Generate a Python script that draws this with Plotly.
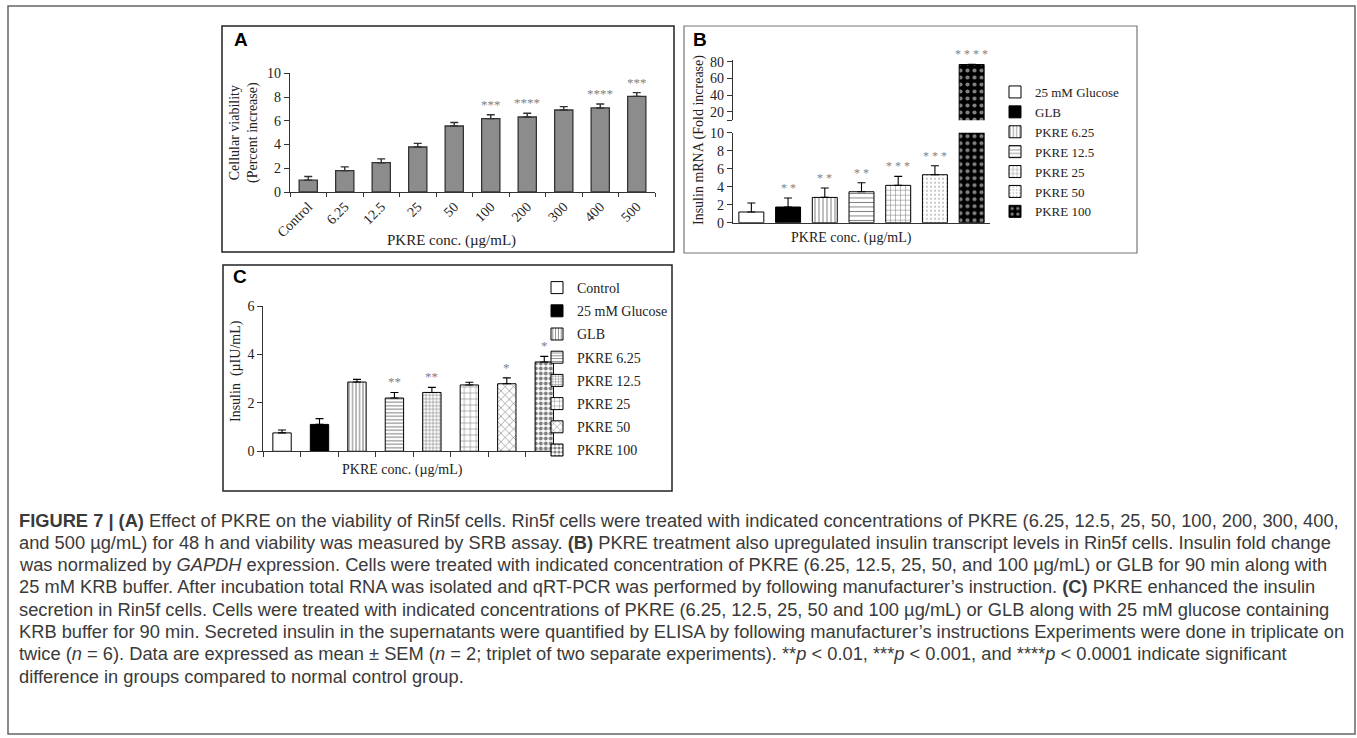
import plotly.graph_objects as go

W, H = 1357, 738

# ---------------- data ----------------
# Panel A: cellular viability after 48 h (SRB assay)
a_cats = ["Control", "6.25", "12.5", "25", "50", "100", "200", "300", "400", "500"]
a_mean = [1.0, 1.8, 2.47, 3.79, 5.56, 6.18, 6.32, 6.91, 7.08, 8.06]
a_sem = [0.3, 0.32, 0.32, 0.31, 0.3, 0.33, 0.31, 0.28, 0.33, 0.31]
a_sig = ["", "", "", "", "", "***", "****", "", "****", "***"]

# Panel B: insulin mRNA fold increase (broken y axis)
b_cats = ["25 mM Glucose", "GLB", "PKRE 6.25", "PKRE 12.5", "PKRE 25", "PKRE 50", "PKRE 100"]
b_mean = [1.19, 1.74, 2.81, 3.44, 4.15, 5.33, 76.6]
b_sem = [1.0, 1.0, 1.04, 1.0, 1.0, 1.0, 0.4]
b_sig = ["", "* *", "* *", "* *", "* * *", "* * *", "* * * *"]

# Panel C: secreted insulin (ELISA)
c_cats = ["Control", "25 mM Glucose", "GLB", "PKRE 6.25", "PKRE 12.5", "PKRE 25", "PKRE 50", "PKRE 100"]
c_mean = [0.76, 1.11, 2.86, 2.2, 2.43, 2.74, 2.79, 3.69]
c_sem = [0.12, 0.24, 0.11, 0.23, 0.21, 0.11, 0.24, 0.23]
c_sig = ["", "", "", "**", "**", "", "*", "*"]

caption_lines = [
    "<b>FIGURE 7 | (A)</b> Effect of PKRE on the viability of Rin5f cells. Rin5f cells were treated with indicated concentrations of PKRE (6.25, 12.5, 25, 50, 100, 200, 300, 400,",
    "and 500 µg/mL) for 48 h and viability was measured by SRB assay. <b>(B)</b> PKRE treatment also upregulated insulin transcript levels in Rin5f cells. Insulin fold change",
    "was normalized by <i>GAPDH</i> expression. Cells were treated with indicated concentration of PKRE (6.25, 12.5, 25, 50, and 100 µg/mL) or GLB for 90 min along with",
    "25 mM KRB buffer. After incubation total RNA was isolated and qRT-PCR was performed by following manufacturer’s instruction. <b>(C)</b> PKRE enhanced the insulin",
    "secretion in Rin5f cells. Cells were treated with indicated concentrations of PKRE (6.25, 12.5, 25, 50 and 100 µg/mL) or GLB along with 25 mM glucose containing",
    "KRB buffer for 90 min. Secreted insulin in the supernatants were quantified by ELISA by following manufacturer’s instructions Experiments were done in triplicate on",
    "twice (<i>n</i> = 6). Data are expressed as mean ± SEM (<i>n</i> = 2; triplet of two separate experiments). **<i>p</i> &lt; 0.01, ***<i>p</i> &lt; 0.001, and ****<i>p</i> &lt; 0.0001 indicate significant",
    "difference in groups compared to normal control group.",
]

# ---------------- helpers ----------------
def px(x):
    return x / W


def py(y):
    return 1 - y / H


SERIF = "Liberation Serif, Times New Roman, serif"
SANS = "Liberation Sans, Arial, sans-serif"
INK = "#222222"
STAR = "#7f7f7f"

b_style = {
    "25 mM Glucose": dict(color="white"),
    "GLB": dict(color="black"),
    "PKRE 6.25": dict(color="white", pattern=dict(shape="|", fgcolor="black", bgcolor="white", size=4, solidity=0.25)),
    "PKRE 12.5": dict(color="white", pattern=dict(shape="-", fgcolor="black", bgcolor="white", size=4.5, solidity=0.22)),
    "PKRE 25": dict(color="white", pattern=dict(shape="+", fgcolor="black", bgcolor="white", size=5, solidity=0.2)),
    "PKRE 50": dict(color="white", pattern=dict(shape=".", fgcolor="#333333", bgcolor="white", size=4, solidity=0.15)),
    "PKRE 100": dict(color="black", pattern=dict(shape=".", fgcolor="white", bgcolor="black", size=7, solidity=0.28)),
}

c_style = {
    "Control": dict(color="white"),
    "25 mM Glucose": dict(color="black"),
    "GLB": dict(color="white", pattern=dict(shape="|", fgcolor="black", bgcolor="white", size=3.5, solidity=0.3)),
    "PKRE 6.25": dict(color="white", pattern=dict(shape="-", fgcolor="black", bgcolor="white", size=3.5, solidity=0.3)),
    "PKRE 12.5": dict(color="white", pattern=dict(shape="+", fgcolor="black", bgcolor="white", size=3.5, solidity=0.3)),
    "PKRE 25": dict(color="white", pattern=dict(shape="+", fgcolor="black", bgcolor="white", size=6, solidity=0.18)),
    "PKRE 50": dict(color="white", pattern=dict(shape="x", fgcolor="black", bgcolor="white", size=6, solidity=0.2)),
    "PKRE 100": dict(color="white", pattern=dict(shape=".", fgcolor="black", bgcolor="white", size=5, solidity=0.5)),
}

fig = go.Figure()

# ---------------- panel A ----------------
fig.add_trace(go.Bar(
    x=a_cats, y=a_mean, width=0.5,
    marker=dict(color="#8c8c8c", line=dict(color="#333333", width=1.3)),
    error_y=dict(type="data", array=a_sem, arrayminus=[0] * len(a_sem), symmetric=False,
                 color="#333333", thickness=1.4, width=4),
    xaxis="x", yaxis="y", showlegend=False, hoverinfo="skip",
))

# ---------------- panel B ----------------
B_LOW_TOP = 10
for cat, m, s in zip(b_cats, b_mean, b_sem):
    st = b_style[cat]
    fig.add_trace(go.Bar(
        x=[cat], y=[m], width=0.68, name=cat,
        marker=dict(color=st["color"], pattern=st.get("pattern"), line=dict(color="black", width=1)),
        error_y=dict(type="data", array=[s], arrayminus=[0], symmetric=False, color="black",
                     thickness=1.1, width=4, visible=(m + s) <= B_LOW_TOP),
        xaxis="x2", yaxis="y2", legend="legend", hoverinfo="skip",
    ))
    if m > B_LOW_TOP:
        # upper segment of the broken axis
        fig.add_trace(go.Bar(
            x=[cat], y=[m], width=0.68, name=cat, showlegend=False,
            marker=dict(color=st["color"], pattern=st.get("pattern"), line=dict(color="black", width=1)),
            error_y=dict(type="data", array=[s], arrayminus=[0], symmetric=False, color="black",
                         thickness=1.1, width=4),
            xaxis="x2", yaxis="y3", hoverinfo="skip",
        ))

# ---------------- panel C ----------------
for cat, m, s in zip(c_cats, c_mean, c_sem):
    st = c_style[cat]
    fig.add_trace(go.Bar(
        x=[cat], y=[m], width=0.49, name=cat, legendgroup=cat,
        marker=dict(color=st["color"], pattern=st.get("pattern"), line=dict(color="black", width=1)),
        error_y=dict(type="data", array=[s], arrayminus=[0], symmetric=False, color="black",
                     thickness=1.1, width=4),
        xaxis="x3", yaxis="y4", legend="legend2", hoverinfo="skip",
    ))

# ---------------- annotations ----------------
ann = []


def star(i, y, text, xref, yref, size=13):
    # category index keeps numeric-looking labels from being read as positions
    ann.append(dict(x=i, y=y, xref=xref, yref=yref, text=text, showarrow=False,
                    yanchor="bottom", yshift=1, font=dict(family=SERIF, size=size, color=STAR)))


for i, (m, s, t) in enumerate(zip(a_mean, a_sem, a_sig)):
    if t:
        star(i, m + s, t, "x", "y")
for i, (m, s, t) in enumerate(zip(b_mean, b_sem, b_sig)):
    if t:
        star(i, m + s, t, "x2", "y3" if m > B_LOW_TOP else "y2", size=12)
for i, (m, s, t) in enumerate(zip(c_mean, c_sem, c_sig)):
    if t:
        star(i, m + s, t, "x3", "y4")


def label(x, y, text, size=14, family=SERIF, angle=0, xanchor="center", color=INK):
    ann.append(dict(x=px(x), y=py(y), xref="paper", yref="paper", text=text, showarrow=False,
                    textangle=angle, xanchor=xanchor, yanchor="middle",
                    font=dict(family=family, size=size, color=color)))


# panel letters
label(232, 39, "<b>A</b>", size=19, family=SANS, xanchor="left", color="black")
label(691, 39, "<b>B</b>", size=19, family=SANS, xanchor="left", color="black")
label(231, 276, "<b>C</b>", size=19, family=SANS, xanchor="left", color="black")

# axis titles
label(244, 133, "Cellular viability<br>(Percent increase)", size=14, angle=-90)
label(451, 240, "PKRE conc. (µg/mL)", size=15)
label(699, 140, "Insulin mRNA (Fold increase)", size=14, angle=-90)
label(851, 238, "PKRE conc. (µg/mL)", size=14)
label(236, 371, "Insulin  (µIU/mL)", size=14, angle=-90)
label(402, 470, "PKRE conc. (µg/mL)", size=14)

# caption
for i, line in enumerate(caption_lines):
    label(17, 520 + i * 22.3, line, size=18.3, family=SANS, xanchor="left", color="#3a3a3a")

# ---------------- frames ----------------
shapes = [
    dict(type="rect", xref="paper", yref="paper", x0=px(8), x1=px(1355), y0=py(734), y1=py(6),
         line=dict(color="#666666", width=1.5)),
    dict(type="rect", xref="paper", yref="paper", x0=px(222), x1=px(674), y0=py(252), y1=py(26),
         line=dict(color="#222222", width=1.5)),
    dict(type="rect", xref="paper", yref="paper", x0=px(684), x1=px(1137), y0=py(253), y1=py(26),
         line=dict(color="#777777", width=1.2)),
    dict(type="rect", xref="paper", yref="paper", x0=px(223), x1=px(672), y0=py(491), y1=py(265),
         line=dict(color="#222222", width=1.5)),
]

axis_common = dict(showline=True, linecolor="#333333", linewidth=1.2, showgrid=False, zeroline=False,
                   tickcolor="#333333", tickwidth=1.2, ticklen=5, automargin=False,
                   tickfont=dict(family=SERIF, size=14, color=INK))

fig.update_layout(
    width=W, height=H, margin=dict(l=0, r=0, t=0, b=0, autoexpand=False),
    paper_bgcolor="white", plot_bgcolor="rgba(0,0,0,0)",
    barmode="overlay", showlegend=True,
    xaxis=dict(axis_common, domain=[px(290), px(655)], anchor="y", type="category",
               categoryorder="array", categoryarray=a_cats, range=[-0.5, 9.5],
               ticks="outside", tickson="boundaries", tickangle=-45, ticklen=4),
    yaxis=dict(axis_common, domain=[py(192), py(73.3)], anchor="x", range=[0, 10], dtick=2,
               ticks="outside"),
    xaxis2=dict(axis_common, domain=[px(733), px(990)], anchor="y2", type="category",
                categoryorder="array", categoryarray=b_cats, range=[-0.5, 6.5],
                ticks="", showticklabels=False),
    yaxis2=dict(axis_common, domain=[py(222.7), py(132.7)], anchor="x2", range=[0, 10], dtick=2,
                ticks="outside"),
    yaxis3=dict(axis_common, domain=[py(120.3), py(60)], anchor="x2", range=[10, 82],
                tickvals=[10, 20, 40, 60, 80], ticktext=["", "20", "40", "60", "80"], ticks="outside"),
    xaxis3=dict(axis_common, domain=[px(263.3), px(563)], anchor="y4", type="category",
                categoryorder="array", categoryarray=c_cats, range=[-0.5, 7.5],
                ticks="outside", tickson="boundaries", showticklabels=False),
    yaxis4=dict(axis_common, domain=[py(451.3), py(306)], anchor="x3", range=[0, 6], dtick=2,
                ticks="outside"),
    legend=dict(x=px(995), y=py(77), xanchor="left", yanchor="top", bgcolor="rgba(0,0,0,0)",
                font=dict(family=SERIF, size=13, color=INK), itemclick=False, itemdoubleclick=False),
    legend2=dict(x=px(537), y=py(272), xanchor="left", yanchor="top", bgcolor="rgba(0,0,0,0)",
                 font=dict(family=SERIF, size=14, color=INK), tracegroupgap=2,
                 itemclick=False, itemdoubleclick=False),
    annotations=ann, shapes=shapes,
)

fig.write_html("out.html")
